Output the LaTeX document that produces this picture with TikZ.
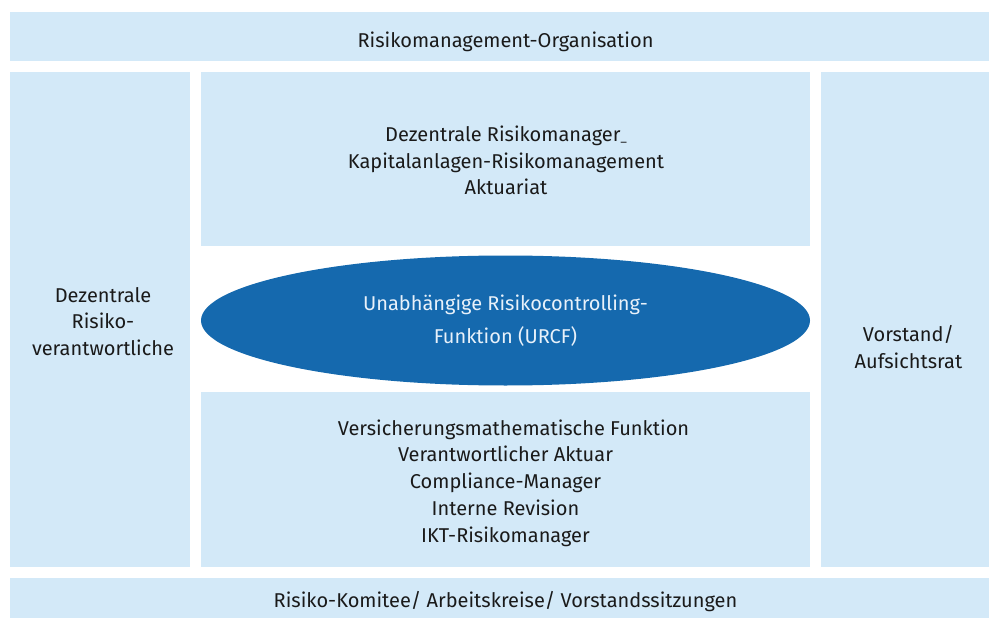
\documentclass[tikz,border=0pt]{standalone}
\usepackage{fontspec}
\setmainfont{Fira Sans}
\usetikzlibrary{shapes.geometric}
\definecolor{panel}{RGB}{211,233,248}
\definecolor{urcf}{RGB}{21,105,174}
\definecolor{ink}{RGB}{26,26,26}
\definecolor{urcftext}{RGB}{232,241,250}
\begin{document}
\begin{tikzpicture}[x=1pt,y=-1pt,
  panelbox/.style={fill=panel, inner sep=0pt, outer sep=0pt},
  paneltext/.style={inner sep=0pt, text=ink, align=center,
    font=\fontsize{20pt}{26.7pt}\selectfont},
  urcfshape/.style={ellipse, fill=urcf, inner sep=0pt, outer sep=0pt, text=urcftext,
    align=center, font=\fontsize{20pt}{33pt}\selectfont},
]
\useasboundingbox (0,0) rectangle (989,618);
\fill[white] (0,0) rectangle (989,618);

% panels
\node[panelbox, minimum width=979pt, minimum height=49pt] (org) at (499.5,36.5) {};
\node[panelbox, minimum width=180pt, minimum height=495pt] (left) at (100,319.5) {};
\node[panelbox, minimum width=168pt, minimum height=495pt] (right) at (905,319.5) {};
\node[panelbox, minimum width=979pt, minimum height=40pt] (committee) at (499.5,598) {};
\node[panelbox, minimum width=609pt, minimum height=174pt] (upper) at (505.5,159) {};
\node[panelbox, minimum width=609pt, minimum height=175pt] (lower) at (505.5,479.5) {};

% panel labels
\node[paneltext] (orgtext) at (505.5,41.5) {Risikomanagement-Organisation};
\node[paneltext] (lefttext) at (103,321.5) {Dezentrale\\Risiko-\\verantwortliche};
\node[paneltext] (righttext) at (908.5,347) {Vorstand/\\Aufsichtsrat};
\node[paneltext] (committeetext) at (505.5,602)
  {Risiko-Komitee/ Arbeitskreise/ Vorstandssitzungen};
\node[paneltext] (uppertext) at (506,160.5)
  {Dezentrale Risikomanager{\fontsize{12pt}{12pt}\selectfont\_}\\Kapitalanlagen-Risikomanagement\\Aktuariat};
\node[paneltext] (lowertext) at (505.5,483)
  {\hspace*{16pt}Versicherungsmathematische Funktion\\Verantwortlicher Aktuar\\Compliance-Manager\\Interne Revision\\IKT-Risikomanager};

% central function
\node[urcfshape, minimum width=609pt, minimum height=130pt] (urcf) at (505.5,320.5)
  {Unabhängige Risikocontrolling-\\Funktion (URCF)};
\end{tikzpicture}
\end{document}
